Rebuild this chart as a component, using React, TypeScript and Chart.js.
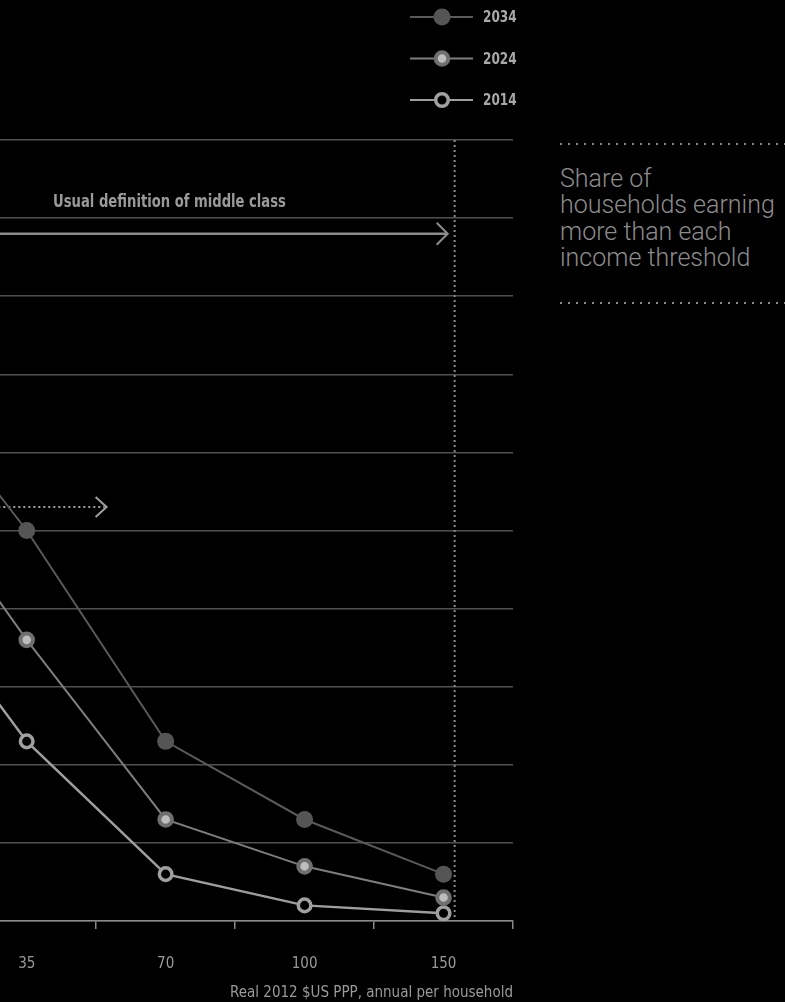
import React, { useEffect, useRef } from "react";
import { Chart, registerables } from "chart.js";

Chart.register(...registerables);

// ---- data ----
const categories = ["20", "35", "70", "100", "150"];
const seriesLabels = ["2034", "2024", "2014"];
const values2034 = [73, 50, 23, 13, 6];
const values2024 = [61, 36, 13, 7, 3];
const values2014 = [47, 23, 6, 2, 1];
const yMin = 0;
const yMax = 100;
const yStep = 10;
const xTitle = "Real 2012 $US PPP, annual per household";
const middleClassLabel = "Usual definition of middle class";
const middleClassArrowValue = 88; // share (%) level of the solid arrow
const middleClassLabelValue = 92;
const dottedArrowValue = 53;
const sideNoteLines = ["Share of", "households earning", "more than each", "income threshold"];

// ---- layout constants ----
const OFFSET = 192; // part of the canvas that lies left of the visible page
const CANVAS_W = 732;
const CANVAS_H = 1002;
const NARROW = '"Liberation Sans Narrow", "DejaVu Sans Condensed", "Arial Narrow", sans-serif';

function condensedText(ctx: CanvasRenderingContext2D, text: string, x: number, y: number, sx: number) {
  ctx.save();
  ctx.translate(x, y);
  ctx.scale(sx, 1);
  ctx.fillText(text, 0, 0);
  ctx.restore();
}

export default function App() {
  const ref = useRef<HTMLCanvasElement>(null);

  useEffect(() => {
    document.body.style.margin = "0";
    document.body.style.background = "#000";
    const canvas = ref.current!;

    const annot = {
      id: "annot",
      beforeDatasetsDraw(chart: any) {
        const { ctx, chartArea } = chart;
        const x = chart.scales.x;
        const y = chart.scales.y;
        const step = x.getPixelForValue(1) - x.getPixelForValue(0);
        ctx.save();
        // vertical dotted threshold line
        const vx = x.getPixelForValue(4) + 0.08 * step;
        ctx.strokeStyle = "#8a8a8a";
        ctx.lineWidth = 2;
        ctx.setLineDash([2, 3]);
        ctx.beginPath();
        ctx.moveTo(vx, chartArea.top);
        ctx.lineTo(vx, chartArea.bottom);
        ctx.stroke();

        // dotted arrow
        const dy = y.getPixelForValue(dottedArrowValue);
        const dEnd = x.getPixelForValue(1) + 0.575 * step;
        ctx.strokeStyle = "#a0a0a0";
        ctx.setLineDash([2, 3]);
        ctx.beginPath();
        ctx.moveTo(chartArea.left, dy);
        ctx.lineTo(dEnd - 2, dy);
        ctx.stroke();
        ctx.setLineDash([]);
        ctx.lineWidth = 2;
        ctx.beginPath();
        ctx.moveTo(dEnd - 11, dy - 10);
        ctx.lineTo(dEnd, dy);
        ctx.lineTo(dEnd - 11, dy + 10);
        ctx.stroke();

        // solid middle class arrow
        const sy = y.getPixelForValue(middleClassArrowValue);
        const sEnd = x.getPixelForValue(4) + 0.03 * step;
        ctx.strokeStyle = "#8c8c8c";
        ctx.lineWidth = 2.5;
        ctx.beginPath();
        ctx.moveTo(chartArea.left, sy);
        ctx.lineTo(sEnd - 1, sy);
        ctx.stroke();
        ctx.lineWidth = 2;
        ctx.beginPath();
        ctx.moveTo(sEnd - 11, sy - 11);
        ctx.lineTo(sEnd, sy);
        ctx.lineTo(sEnd - 11, sy + 11);
        ctx.stroke();

        // label
        ctx.fillStyle = "#9a9a9a";
        ctx.font = `bold 17px ${NARROW}`;
        ctx.textBaseline = "middle";
        ctx.textAlign = "left";
        condensedText(
          ctx,
          middleClassLabel,
          x.getPixelForValue(1) + 0.19 * step,
          y.getPixelForValue(middleClassLabelValue),
          0.86
        );
        ctx.restore();
      },
      afterDraw(chart: any) {
        const { ctx } = chart;
        const metas = chart.data.datasets;
        ctx.save();
        metas.forEach((ds: any, i: number) => {
          const cy = 17 + i * 41.5;
          const x0 = 410 + OFFSET;
          ctx.strokeStyle = ds.borderColor;
          ctx.lineWidth = 2;
          ctx.beginPath();
          ctx.moveTo(x0, cy);
          ctx.lineTo(x0 + 63, cy);
          ctx.stroke();
          ctx.beginPath();
          ctx.arc(x0 + 32, cy, ds.pointRadius, 0, Math.PI * 2);
          ctx.fillStyle = ds.pointBackgroundColor;
          ctx.fill();
          if (ds.pointBorderWidth > 0) {
            ctx.lineWidth = ds.pointBorderWidth;
            ctx.strokeStyle = ds.pointBorderColor;
            ctx.stroke();
          }
          ctx.fillStyle = "#a8a8a8";
          ctx.font = `bold 16px ${NARROW}`;
          ctx.textBaseline = "middle";
          ctx.textAlign = "left";
          condensedText(ctx, ds.label, x0 + 73, cy + 1, 0.84);
        });
        ctx.restore();
      },
    };

    const chart = new Chart(canvas, {
      type: "line",
      data: {
        labels: categories,
        datasets: [
          {
            label: seriesLabels[0],
            data: values2034,
            borderColor: "#5a5a5a",
            borderWidth: 2,
            pointBackgroundColor: "#555555",
            pointBorderColor: "#555555",
            pointBorderWidth: 0,
            pointRadius: 8.5,
            clip: false,
          },
          {
            label: seriesLabels[1],
            data: values2024,
            borderColor: "#7e7e7e",
            borderWidth: 2,
            pointBackgroundColor: "#bdbdbd",
            pointBorderColor: "#6f6f6f",
            pointBorderWidth: 4,
            pointRadius: 6.3,
            clip: false,
          },
          {
            label: seriesLabels[2],
            data: values2014,
            borderColor: "#9e9e9e",
            borderWidth: 2.5,
            pointBackgroundColor: "#000000",
            pointBorderColor: "#a0a0a0",
            pointBorderWidth: 3.5,
            pointRadius: 6.3,
            clip: false,
          },
        ],
      } as any,
      options: {
        responsive: false,
        animation: false,
        devicePixelRatio: 1,
        layout: { padding: { top: 140, right: 27, left: 0, bottom: 0 } },
        plugins: { legend: { display: false }, tooltip: { enabled: false } },
        scales: {
          x: {
            offset: true,
            grid: {
              offset: true,
              drawOnChartArea: false,
              drawTicks: true,
              tickLength: 8,
              color: "#8a8a8a",
              lineWidth: 1.5,
            },
            border: { display: true, color: "#8a8a8a", width: 1.5 },
            ticks: {
              color: "#9a9a9a",
              font: { family: NARROW, size: 15 },
              padding: 26,
              maxRotation: 0,
            },
            title: {
              display: true,
              text: xTitle,
              align: "end",
              color: "#9a9a9a",
              font: { family: NARROW, size: 15 },
              padding: { top: -15, bottom: 0 },
            },
          },
          y: {
            min: yMin,
            max: yMax,
            ticks: { display: false, stepSize: yStep },
            grid: { color: "#505050", lineWidth: 1.5, drawTicks: false },
            border: { display: false },
          },
        },
      } as any,
      plugins: [annot],
    });
    return () => chart.destroy();
  }, []);

  const dots = {
    height: 2,
    backgroundImage: "linear-gradient(to right, #8a8a8a 2px, transparent 2px)",
    backgroundSize: "8px 2px",
    backgroundRepeat: "repeat-x",
  } as React.CSSProperties;

  return (
    <div
      style={{
        position: "fixed",
        left: 0,
        top: 0,
        width: 785,
        height: 1002,
        overflow: "hidden",
        background: "#000",
      }}
    >
      <canvas
        ref={ref}
        width={CANVAS_W}
        height={CANVAS_H}
        style={{ position: "absolute", left: -OFFSET, top: 0, width: CANVAS_W, height: CANVAS_H }}
      />
      <div style={{ position: "absolute", left: 560, top: 143, width: 240 }}>
        <div style={dots} />
        <div
          style={{
            marginTop: 21,
            marginBottom: 31,
            fontFamily: "Roboto, 'Open Sans', sans-serif",
            fontWeight: 300,
            fontSize: 25,
            lineHeight: "26.3px",
            color: "#8c8c8c",
          }}
        >
          {sideNoteLines.map((l, i) => (
            <div key={i}>{l}</div>
          ))}
        </div>
        <div style={dots} />
      </div>
    </div>
  );
}
